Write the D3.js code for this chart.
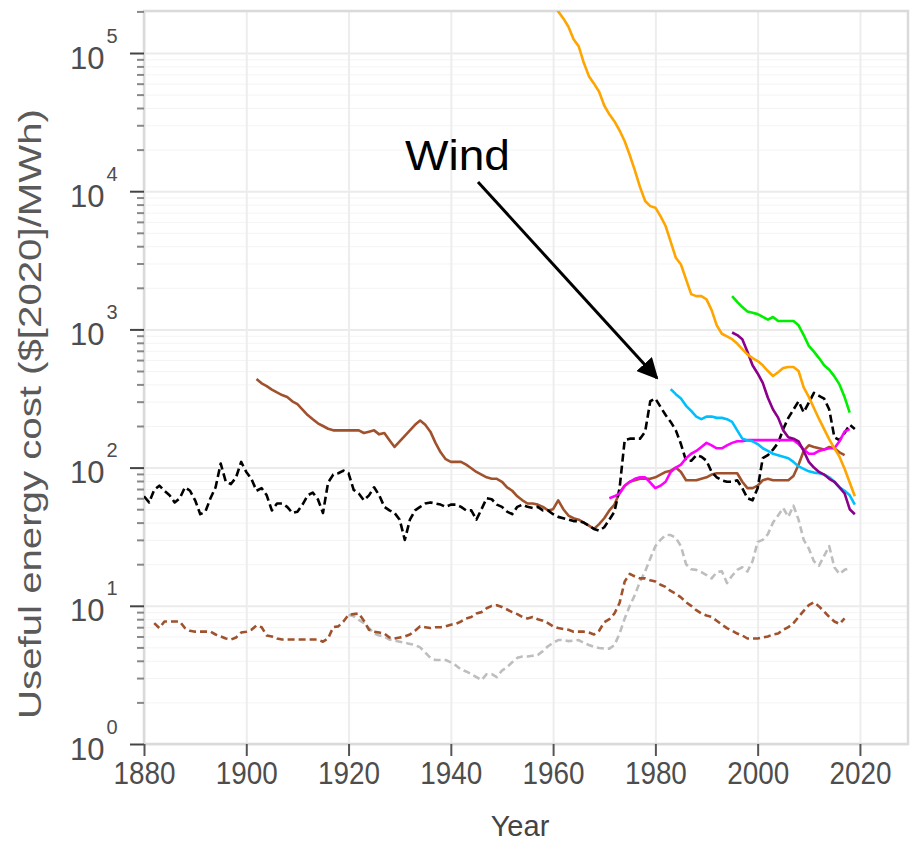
<!DOCTYPE html>
<html>
<head>
<meta charset="utf-8">
<script src="https://cdn.jsdelivr.net/npm/d3@7"></script>
<style>
  body { margin: 0; background: #fff; }
  svg { display: block; font-family: "Liberation Sans", Arial, sans-serif; }
</style>
</head>
<body>
<script>
// useful energy cost, $/MWh, one value per year from the start year

var solarStart = 1960;
var solarCost = [240000, 200000, 178000, 155000, 126000, 112000, 85000,
    68000, 60000, 52500, 41700, 36000, 32000, 27500, 23000, 18200, 14100,
    10700, 8500, 7800, 7600, 6600, 5600, 4300, 3300, 2950, 2300, 1800, 1740,
    1740, 1650, 1380, 1070, 930, 890, 850, 790, 720, 660, 620, 590, 550, 500,
    460, 490, 525, 535, 535, 500, 380, 325, 270, 225, 190, 160, 138, 120, 98,
    78, 62];

var greenStart = 1995;
var greenCost = [1740, 1580, 1450, 1350, 1320, 1290, 1230, 1175, 1230, 1150,
    1150, 1150, 1150, 1070, 910, 760, 690, 620, 550, 510, 457, 400, 324, 250];

var purpleStart = 1995;
var purpleCost = [950, 910, 850, 690, 550, 480, 410, 320, 263, 230, 186, 166,
    162, 155, 132, 110, 100, 93, 89, 83, 79, 72, 65, 50, 46];

var windStart = 1983;
var windCost = [370, 340, 316, 280, 257, 234, 224, 234, 234, 229, 229, 224,
    214, 186, 162, 158, 155, 148, 138, 132, 126, 123, 120, 117, 110, 102, 98,
    94, 92, 91, 89, 85, 79, 72, 68, 63, 54];

var nuclearStart = 1971;
var nuclearCost = [60, 62, 65, 74, 79, 83, 85, 85, 78, 71, 74, 79, 93, 100,
    105, 117, 126, 132, 141, 151, 145, 138, 138, 145, 151, 155, 155, 158, 158,
    158, 158, 158, 158, 158, 158, 158, 158, 148, 135, 126, 126, 132, 135, 138,
    138, 155, 182, 190];

var coalElecStart = 1902;
var coalElecCost = [437, 407, 389, 367, 350, 335, 324, 302, 288, 263, 240,
    224, 209, 200, 191, 186, 186, 186, 186, 186, 186, 178, 182, 186, 174, 178,
    158, 141, 155, 170, 186, 204, 219, 204, 182, 151, 129, 115, 110, 110, 110,
    105, 99, 93, 89, 85, 83, 83, 79, 72, 68, 62, 58, 55, 55, 54, 52, 49,
    50, 58, 50, 45, 43, 42, 40, 38, 36, 39, 43, 49, 54, 66, 74, 79, 81, 83,
    83, 83, 85, 89, 93, 95, 100, 93, 81, 81, 81, 83, 85, 89, 91, 91, 91, 91,
    91, 79, 71, 71, 74, 81, 83, 81, 81, 81, 81, 87, 105, 132, 145, 141, 138,
    135, 141, 138, 129, 123];

var oilStart = 1880;
var oilCost = [62, 56, 69, 74, 68, 63, 56, 60, 72, 68, 58, 46, 48, 60, 72,
    107, 79, 76, 85, 110, 93, 83, 68, 71, 63, 49, 55, 55, 52, 47, 48, 54, 63,
    66, 59, 47, 78, 89, 91, 95, 91, 69, 65, 58, 63, 72, 63, 52, 49, 47, 42,
    30, 42, 49, 52, 55, 56, 55, 54, 52, 54, 54, 52, 49, 49, 42, 50, 60, 59,
    54, 52, 48, 46, 52, 54, 52, 51, 52, 49, 49, 46, 44, 43, 42, 41, 41, 40,
    38, 36, 35, 37, 42, 48, 71, 158, 162, 162, 162, 182, 302, 316, 275, 240,
    214, 186, 148, 112, 112, 123, 120, 112, 93, 85, 81, 79, 79, 81, 71, 60,
    58, 71, 117, 123, 135, 151, 190, 229, 263, 302, 251, 295, 347, 331, 316,
    263, 166, 158, 178, 204, 190];

var coalStart = 1882;
var coalCost = [7.5, 6.9, 7.7, 7.7, 7.7, 7.7, 6.9, 6.6, 6.5, 6.5, 6.5, 6.5,
    6.2, 6.0, 5.8, 5.7, 5.9, 6.4, 6.5, 6.7, 7.2, 7.0, 6.1, 6.0, 5.8, 5.7, 5.7,
    5.7, 5.7, 5.7, 5.7, 5.7, 5.7, 5.5, 5.8, 7.0, 7.1, 7.7, 8.6, 8.7, 8.8, 7.8,
    6.7, 6.5, 6.4, 6.3, 5.9, 5.8, 5.9, 6.0, 6.2, 6.6, 7.1, 7.0, 6.9, 7.0, 7.0,
    7.1, 7.3, 7.4, 7.7, 8.1, 8.3, 8.8, 9.0, 9.6, 10.0, 10.1, 9.8, 9.4, 9.0,
    8.7, 8.3, 8.1, 8.3, 8.0, 7.8, 7.5, 7.1, 6.9, 6.8, 6.7, 6.5, 6.5, 6.5, 6.4,
    6.2, 6.6, 7.6, 8.0, 8.8, 10.5, 15.0, 17.0, 16.3, 15.8, 15.8, 15.3, 15.0,
    14.2, 13.7, 12.8, 12.2, 11.5, 10.6, 10.0, 9.3, 8.8, 8.5, 8.3, 7.8, 7.3,
    6.9, 6.6, 6.3, 6.1, 5.8, 5.8, 5.8, 5.9, 6.0, 6.2, 6.3, 6.7, 7.0, 7.5, 8.3,
    9.2, 10.1, 10.6, 9.9, 9.1, 8.3, 7.7, 7.4, 8.1];

var gasStart = 1920;
var gasCost = [8.6, 8.4, 7.9, 7.5, 6.9, 6.3, 6.1, 6.0, 5.7, 5.6, 5.5, 5.4,
    5.3, 5.2, 5.0, 4.6, 4.2, 4.05, 4.05, 4.05, 3.9, 3.7, 3.45, 3.35, 3.2, 3.05,
    2.9, 3.2, 3.2, 3.05, 3.4, 3.6, 3.9, 4.2, 4.3, 4.3, 4.35, 4.4, 4.7, 5.1,
    5.4, 5.65, 5.65, 5.55, 5.6, 5.65, 5.4, 5.2, 5.05, 4.95, 4.9, 4.9, 5.2,
    6.3, 8.1, 10.0, 12.0, 15.0, 17.7, 22, 27, 30, 32.5, 32.5, 31, 27, 20,
    18.4, 18.2, 17.5, 16.7, 15.8, 17.5, 17.8, 14.6, 16.5, 18.2, 19, 17.7, 21,
    29, 30, 33, 40, 45, 51, 44, 53, 42, 30, 26, 21, 19.5, 23, 27, 19, 17,
    18.2, 18.7];

var xTicks = [1880, 1900, 1920, 1940, 1960, 1980, 2000, 2020];
var yExponents = [0, 1, 2, 3, 4, 5];

var series = [
    {start: gasStart, values: gasCost, color: "#bebebe", dash: "7,4"},
    {start: coalStart, values: coalCost, color: "#a0522d", dash: "7,4"},
    {start: coalElecStart, values: coalElecCost, color: "#a0522d", dash: null},
    {start: oilStart, values: oilCost, color: "#000000", dash: "8,4"},
    {start: nuclearStart, values: nuclearCost, color: "#ff00ff", dash: null},
    {start: windStart, values: windCost, color: "#00bfff", dash: null},
    {start: purpleStart, values: purpleCost, color: "#8b008b", dash: null},
    {start: greenStart, values: greenCost, color: "#00ee00", dash: null},
    {start: solarStart, values: solarCost, color: "#ffa500", dash: null}
];

var W = 912, H = 845;
var pLeft = 144, pRight = 908, pTop = 11, pBottom = 744;
var font = "'Liberation Sans', Arial, sans-serif";

var svg = d3.select("body").append("svg")
    .attr("width", W)
    .attr("height", H);

var x = d3.scaleLinear().domain([1880, 2029.4]).range([pLeft, pRight]);
var y = d3.scaleLog().domain([1, Math.pow(10, 5.304)])
    .range([pBottom, pTop]);

var majors = yExponents.map(function (e) { return Math.pow(10, e); });
var minors = [];
majors.forEach(function (m) {
    for (var k = 2; k <= 9; k++) {
        if (m * k < y.domain()[1]) minors.push(m * k);
    }
});

// grid
svg.append("g")
    .attr("transform", "translate(" + pLeft + ",0)")
    .call(d3.axisLeft(y).tickValues(minors).tickSize(-(pRight - pLeft))
        .tickFormat(""))
    .call(function (g) {
        g.select(".domain").remove();
        g.selectAll("line").attr("stroke", "#f4f4f4").attr("stroke-width", 1);
    });
svg.append("g")
    .attr("transform", "translate(" + pLeft + ",0)")
    .call(d3.axisLeft(y).tickValues(majors).tickSize(-(pRight - pLeft))
        .tickFormat(""))
    .call(function (g) {
        g.select(".domain").remove();
        g.selectAll("line").attr("stroke", "#ebebeb").attr("stroke-width", 2);
    });
svg.append("g")
    .attr("transform", "translate(0," + pBottom + ")")
    .call(d3.axisBottom(x).tickValues(xTicks).tickSize(-(pBottom - pTop))
        .tickFormat(""))
    .call(function (g) {
        g.select(".domain").remove();
        g.selectAll("line").attr("stroke", "#ededed").attr("stroke-width", 2);
    });

// panel border
svg.append("rect")
    .attr("x", pLeft).attr("y", pTop)
    .attr("width", pRight - pLeft).attr("height", pBottom - pTop)
    .attr("fill", "none")
    .attr("stroke", "#dadada")
    .attr("stroke-width", 2.5);

// lines
svg.append("clipPath").attr("id", "clip")
    .append("rect")
    .attr("x", pLeft).attr("y", pTop)
    .attr("width", pRight - pLeft).attr("height", pBottom - pTop);

var line = d3.line()
    .x(function (d) { return x(d.year); })
    .y(function (d) { return y(d.value); });

var plot = svg.append("g").attr("clip-path", "url(#clip)");
series.forEach(function (s) {
    var pts = s.values.map(function (v, i) {
        return {year: s.start + i, value: v};
    });
    plot.append("path")
        .datum(pts)
        .attr("d", line)
        .attr("fill", "none")
        .attr("stroke", s.color)
        .attr("stroke-width", 2.6)
        .attr("stroke-linejoin", "round")
        .attr("stroke-dasharray", s.dash);
});

// y axis ticks
svg.append("g")
    .attr("transform", "translate(" + pLeft + ",0)")
    .call(d3.axisLeft(y).tickValues(minors).tickSize(7).tickFormat(""))
    .call(function (g) {
        g.select(".domain").remove();
        g.selectAll("line").attr("stroke", "#888").attr("stroke-width", 2);
    });
var yAxis = svg.append("g")
    .attr("transform", "translate(" + pLeft + ",0)")
    .call(d3.axisLeft(y).tickValues(majors).tickSize(14).tickFormat(""))
    .call(function (g) {
        g.select(".domain").remove();
        g.selectAll("line").attr("stroke", "#444").attr("stroke-width", 2);
    });
// one text per label, "10" with the exponent raised
yAxis.selectAll(".tick").each(function (d) {
    var t = d3.select(this).append("text")
        .attr("x", -74)
        .attr("y", 15)
        .attr("fill", "#4d4d4d")
        .attr("text-anchor", "start")
        .attr("font-family", font)
        .attr("font-size", 31);
    t.append("tspan").text("10");
    t.append("tspan")
        .attr("dx", 2)
        .attr("dy", -26)
        .attr("font-size", 20)
        .text(Math.round(Math.log10(d)));
});

// x axis ticks
svg.append("g")
    .attr("transform", "translate(0," + pBottom + ")")
    .call(d3.axisBottom(x).tickValues(xTicks).tickSize(12).tickPadding(6)
        .tickFormat(d3.format("d")))
    .call(function (g) {
        g.select(".domain").remove();
        g.selectAll("line").attr("stroke", "#555").attr("stroke-width", 2);
        g.selectAll("text")
            .attr("fill", "#4d4d4d")
            .attr("font-family", font)
            .attr("font-size", 31)
            .attr("textLength", 62)
            .attr("lengthAdjust", "spacingAndGlyphs");
    });

// axis titles
svg.append("text")
    .attr("x", 520)
    .attr("y", 836)
    .attr("text-anchor", "middle")
    .attr("fill", "#444")
    .style("font-size", "29px")
    .text("Year");

svg.append("text")
    .attr("transform", "translate(41,414) rotate(-90)")
    .attr("text-anchor", "middle")
    .attr("fill", "#5a5a5a")
    .attr("textLength", 610)
    .attr("lengthAdjust", "spacingAndGlyphs")
    .style("font-size", "32px")
    .text("Useful energy cost ($[2020]/MWh)");

// annotation
svg.append("defs").append("marker")
    .attr("id", "head")
    .attr("viewBox", "0 0 10 10")
    .attr("refX", 9).attr("refY", 5)
    .attr("markerWidth", 7).attr("markerHeight", 7)
    .attr("orient", "auto")
    .append("path")
    .attr("d", "M0,0 L10,5 L0,10 Z")
    .attr("fill", "#000");

svg.append("line")
    .attr("x1", 478).attr("y1", 182)
    .attr("x2", x(1980.3)).attr("y2", 378)
    .attr("stroke", "#000")
    .attr("stroke-width", 3)
    .attr("marker-end", "url(#head)");

svg.append("text")
    .attr("x", 405)
    .attr("y", 170)
    .attr("fill", "#000")
    .attr("textLength", 105)
    .attr("lengthAdjust", "spacingAndGlyphs")
    .style("font-size", "42px")
    .text("Wind");
</script>
</body>
</html>
